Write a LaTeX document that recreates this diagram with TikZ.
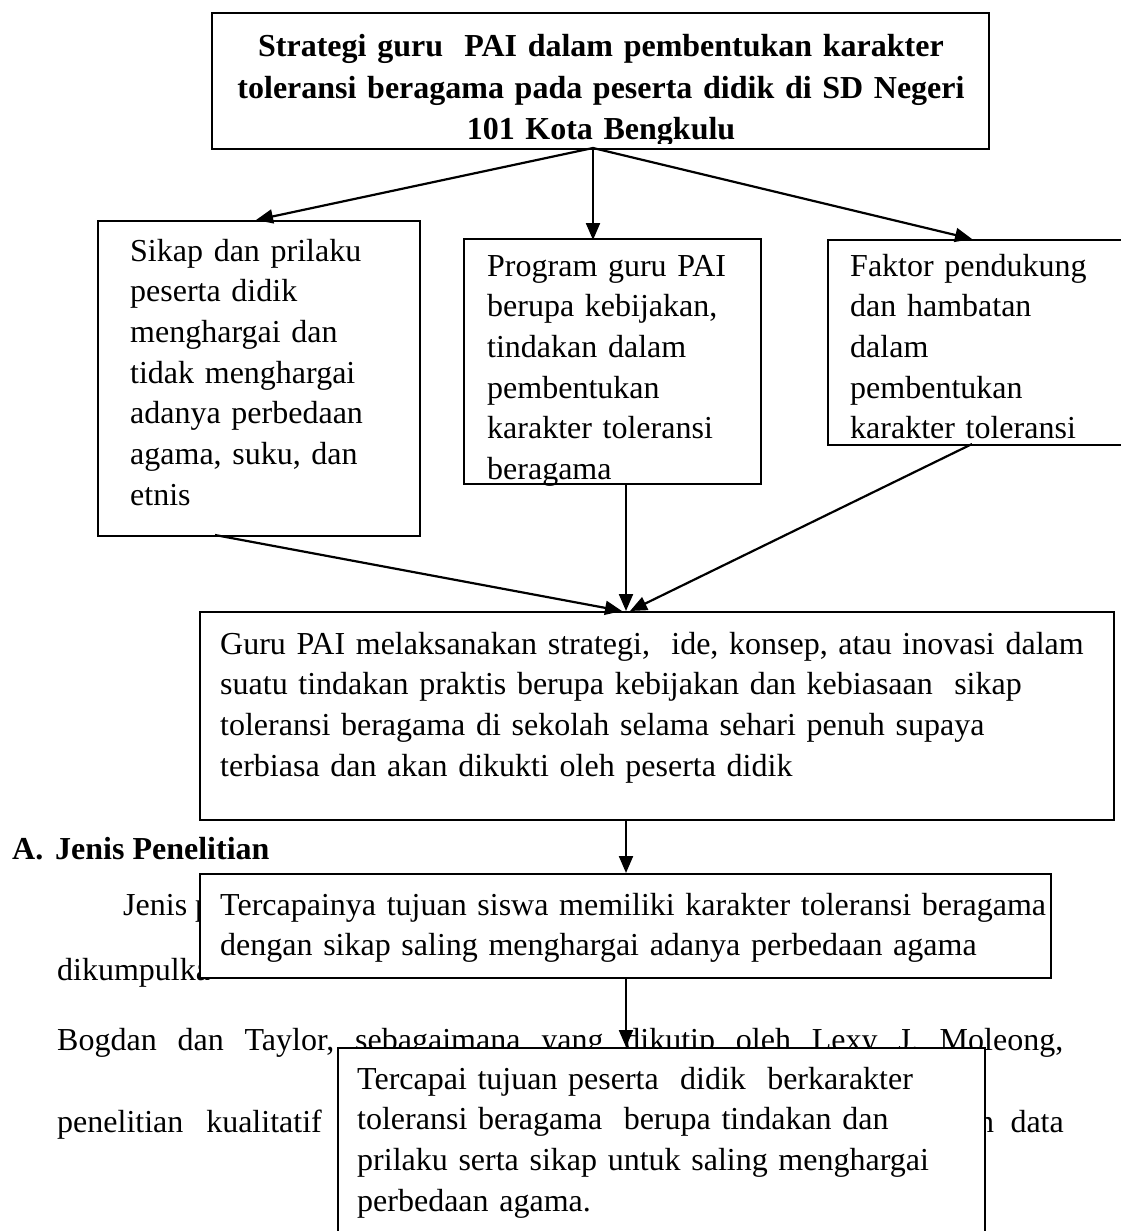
\documentclass[tikz,border=0pt]{standalone}
\usepackage{fontspec}
\setmainfont{Liberation Serif}
\usetikzlibrary{arrows.meta}
\begin{document}
\begin{tikzpicture}[x=1pt,y=-1pt,
  box/.style={draw, line width=2pt, fill=white, inner sep=0pt, anchor=north west},
  txt/.style={anchor=base west, inner sep=0pt, text width=#1, align=left, font=\fontsize{32}{40.7}\selectfont},
  bg/.style={anchor=base west, inner sep=0pt, font=\fontsize{32}{40}\selectfont},
  arr/.style={line width=2.2pt, -{Triangle[length=17pt,width=14pt]}},
]
\useasboundingbox (0,0) rectangle (1120,1231);
% background page text
\node[bg, font=\fontsize{32}{40}\selectfont\bfseries] (hA) at (12,859) {A.};
\node[bg, font=\fontsize{32}{40}\selectfont\bfseries] (hJ) at (55,859) {Jenis Penelitian};
\node[bg] (p1) at (123,915) {Jenis p};
\node[bg] (p2) at (57,980) {dikumpulka};
\node[bg] (p3) at (57,1050) {\hbox to 1006pt{Bogdan\hfill dan\hfill Taylor,\hfill sebagaimana\hfill yang\hfill dikutip\hfill oleh\hfill Lexy\hfill J.\hfill Moleong,}};
\node[bg] (p4) at (57,1132) {penelitian};
\node[bg, anchor=base east] (p5) at (322,1132) {kualitatif};
\node[bg] (p6) at (978,1132) {n};
\node[bg, anchor=base east] (p7) at (1064,1132) {data};
% boxes
\node[box, minimum width=777pt, minimum height=136pt] (top) at (211,12) {};
\begin{scope}
\clip (212,13) rectangle (987,143);
\node[txt=770pt, align=center, anchor=base, font=\fontsize{32}{41}\selectfont\bfseries] (topT) at (601,57)
  {Strategi guru\ \ PAI dalam pembentukan karakter\\toleransi beragama pada peserta didik di SD Negeri\\101 Kota Bengkulu};
\end{scope}
\node[box, minimum width=322pt, minimum height=315pt] (lb) at (97,220) {};
\node[txt=300pt] (lbT) at (130,261) {Sikap dan prilaku\\peserta didik\\menghargai dan\\tidak menghargai\\adanya perbedaan\\agama, suku, dan\\etnis};
\node[box, minimum width=297pt, minimum height=245pt] (mb) at (463,238) {};
\node[txt=280pt] (mbT) at (487,276) {Program guru PAI\\berupa kebijakan,\\tindakan dalam\\pembentukan\\karakter toleransi\\beragama};
\node[box, minimum width=300pt, minimum height=205pt] (rb) at (827,239) {};
\node[txt=280pt] (rbT) at (850,276) {Faktor pendukung\\dan hambatan\\dalam\\pembentukan\\karakter toleransi};
\node[box, minimum width=914pt, minimum height=208pt] (main) at (199,611) {};
\node[txt=890pt] (mainT) at (220,654) {Guru PAI melaksanakan strategi,\ \ ide, konsep, atau inovasi dalam\\suatu tindakan praktis berupa kebijakan dan kebiasaan\ \ sikap\\toleransi beragama di sekolah selama sehari penuh supaya\\terbiasa dan akan dikukti oleh peserta didik};
\node[box, minimum width=851pt, minimum height=104pt] (g1) at (199,873) {};
\node[txt=830pt] (g1T) at (220,915) {Tercapainya tujuan siswa memiliki karakter toleransi beragama\\dengan sikap saling menghargai adanya perbedaan agama};
\node[box, minimum width=647pt, minimum height=200pt] (g2) at (337,1047) {};
\node[txt=620pt] (g2T) at (357,1089) {Tercapai tujuan peserta\ \ didik\ \ berkarakter\\toleransi beragama\ \ berupa tindakan dan\\prilaku serta sikap untuk saling menghargai\\perbedaan agama.};
% connector points
\coordinate (tS) at (593,148);
\coordinate (lN) at (256,220);
\coordinate (mN) at (593,240);
\coordinate (rN) at (972,239);
\coordinate (lS) at (215,535);
\coordinate (mS) at (626,483);
\coordinate (rS) at (972,444);
\coordinate (mainNL) at (622,611);
\coordinate (mainN) at (626,611);
\coordinate (mainNR) at (630,611);
\coordinate (mainS) at (626,819);
\coordinate (g1N) at (626,873);
\coordinate (g1S) at (626,977);
\coordinate (g2N) at (626,1047);
\draw[arr] (tS) -- (lN);
\draw[arr] (tS) -- (mN);
\draw[arr] (tS) -- (rN);
\draw[arr] (lS) -- (mainNL);
\draw[arr] (mS) -- (mainN);
\draw[arr] (rS) -- (mainNR);
\draw[arr] (mainS) -- (g1N);
\draw[arr] (g1S) -- (g2N);
\end{tikzpicture}
\end{document}
